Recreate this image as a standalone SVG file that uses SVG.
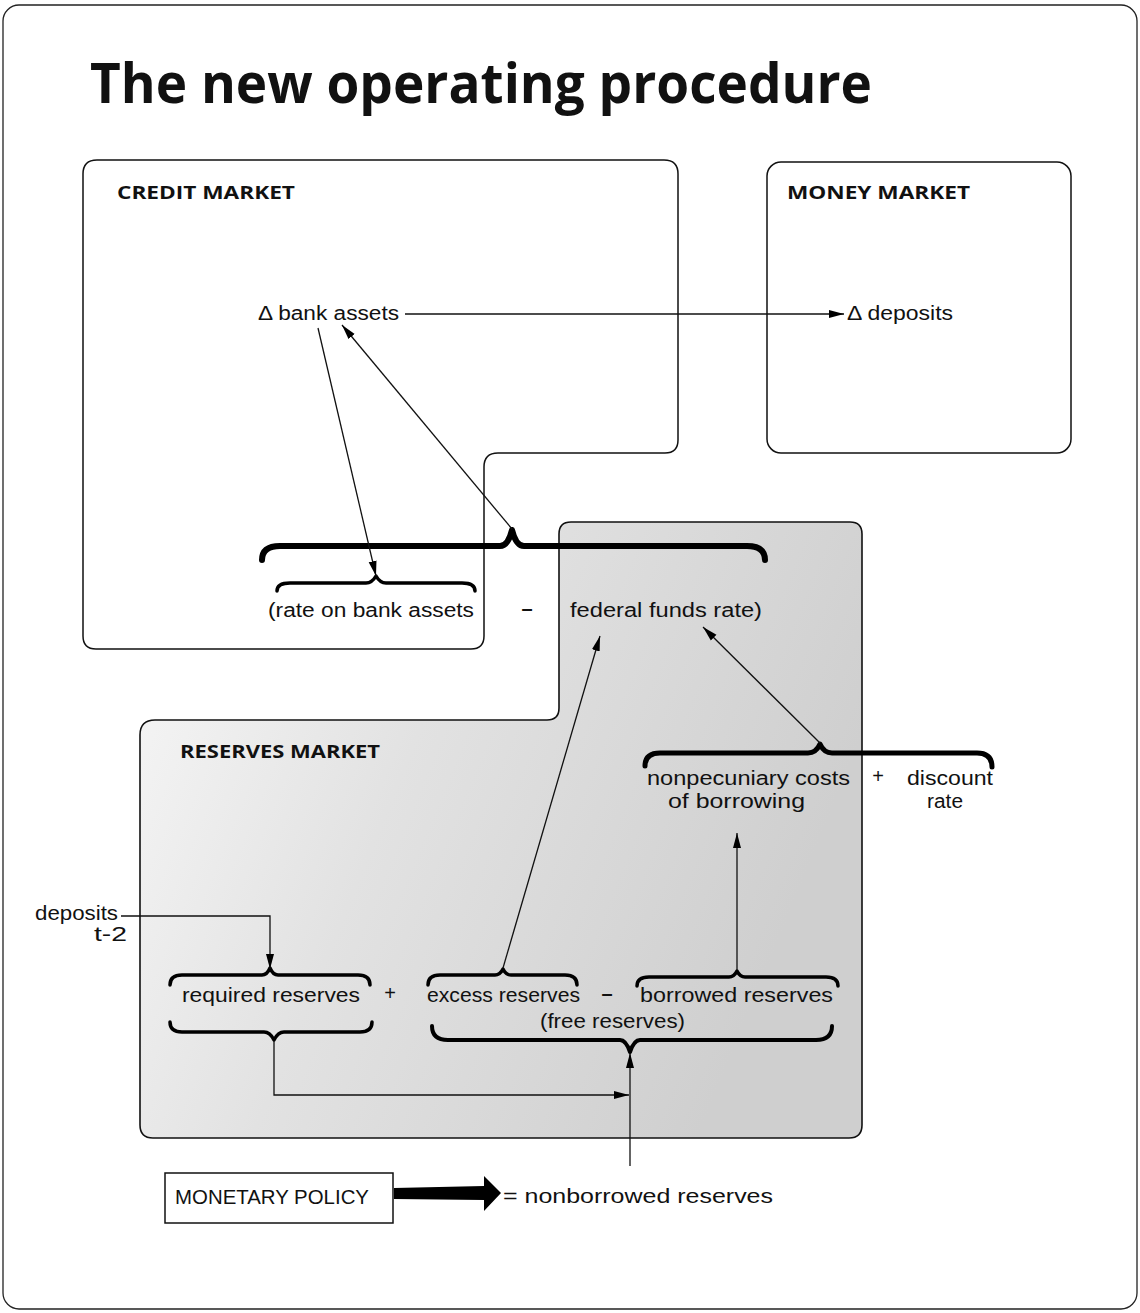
<svg xmlns="http://www.w3.org/2000/svg" width="1140" height="1313" viewBox="0 0 1140 1313">
<defs>
<linearGradient id="shade" x1="0" y1="0" x2="1" y2="0.35">
<stop offset="0" stop-color="#f8f8f8"/>
<stop offset="0.45" stop-color="#e2e2e2"/>
<stop offset="1" stop-color="#cfcfcf"/>
</linearGradient>
<marker id="ah" markerUnits="userSpaceOnUse" markerWidth="16" markerHeight="10" refX="15" refY="5" orient="auto">
<path d="M0,1 L15,5 L0,9 Z" fill="#000"/>
</marker>
</defs>
<style>
.box{fill:none;stroke:#111;stroke-width:1.5}
.t{font-family:"Liberation Sans",Arial,sans-serif;font-size:20px;fill:#111}
.h{font-family:"Open Sans","Liberation Sans",sans-serif;font-size:18px;font-weight:bold;fill:#111}
.m{font-family:"Liberation Sans",Arial,sans-serif;font-size:20px;font-weight:bold;fill:#111}
.c{fill:none;stroke:#111;stroke-width:1.3}
.br{fill:none;stroke:#000;stroke-linecap:round;stroke-linejoin:round}
</style>
<rect x="3" y="5" width="1134" height="1304" rx="16" fill="#fff" stroke="#222" stroke-width="1.3"/>
<text x="90" y="103" font-family="'Open Sans','Liberation Sans',sans-serif" font-size="55" font-weight="bold" fill="#111" textLength="782" lengthAdjust="spacingAndGlyphs">The new operating procedure</text>

<g id="reserves-market">
<path d="M155,720 H547 Q559,720 559,708 V534 Q559,522 571,522 H850 Q862,522 862,534 V1125 Q862,1138 849,1138 H153 Q140,1138 140,1125 V735 Q140,720 155,720 Z" fill="url(#shade)" stroke="#111" stroke-width="1.6"/>
<text class="h" x="180" y="758" textLength="200" lengthAdjust="spacingAndGlyphs">RESERVES MARKET</text>
</g>
<g id="credit-market">
<path class="box" d="M97,160 H664 Q678,160 678,174 V440 Q678,453 665,453 H498 Q484,453 484,467 V636 Q484,649 471,649 H96 Q83,649 83,636 V174 Q83,160 97,160 Z"/>
<text class="h" x="117" y="199" textLength="178" lengthAdjust="spacingAndGlyphs">CREDIT MARKET</text>
</g>
<g id="money-market">
<rect class="box" x="767" y="162" width="304" height="291" rx="14"/>
<text class="h" x="787" y="199" textLength="183" lengthAdjust="spacingAndGlyphs">MONEY MARKET</text>
</g>

<g id="bank-assets"><text class="t" x="258" y="320" textLength="141" lengthAdjust="spacingAndGlyphs">Δ bank assets</text></g>
<g id="deposits-mm"><text class="t" x="847" y="320" textLength="106" lengthAdjust="spacingAndGlyphs">Δ deposits</text></g>

<g id="spread">
<path class="br" stroke-width="6" d="M262,560 Q262,546 280,546 L500,546 Q508,546 512,530 Q516,546 524,546 L747,546 Q765,546 765,560"/>
<path class="br" stroke-width="3.5" d="M277,591 Q277,583 290,583 L366,583 Q372,583 376,576 Q380,583 386,583 L462,583 Q475,583 475,591"/>
<text class="t" x="268" y="617" textLength="206" lengthAdjust="spacingAndGlyphs">(rate on bank assets</text>
<text class="m" x="527" y="615" text-anchor="middle">–</text>
<text class="t" x="570" y="617" textLength="192" lengthAdjust="spacingAndGlyphs">federal funds rate)</text>
</g>

<g id="discount-cost">
<path class="br" stroke-width="5" d="M645,766 Q645,753 660,753 L808,753 Q816,753 820,744 Q824,753 832,753 L977,753 Q992,753 992,767"/>
<text class="t" x="647" y="785" textLength="203" lengthAdjust="spacingAndGlyphs">nonpecuniary costs</text>
<text class="t" x="668" y="808" textLength="137" lengthAdjust="spacingAndGlyphs">of borrowing</text>
<text class="t" x="878" y="783" text-anchor="middle">+</text>
<text class="t" x="907" y="785" textLength="86" lengthAdjust="spacingAndGlyphs">discount</text>
<text class="t" x="927" y="808" textLength="36" lengthAdjust="spacingAndGlyphs">rate</text>
</g>

<g id="deposits-t2">
<text class="t" x="35" y="920" textLength="83" lengthAdjust="spacingAndGlyphs">deposits</text>
<text class="t" x="94" y="941" font-size="16" textLength="33" lengthAdjust="spacingAndGlyphs">t-2</text>
</g>

<g id="reserves">
<path class="br" stroke-width="3.5" d="M170,985 Q170,975 182,975 L262,975 Q267,975 270,968 Q273,975 278,975 L358,975 Q370,975 370,985"/>
<path class="br" stroke-width="3.5" d="M428,985 Q428,975 440,975 L495,975 Q500,975 503,969 Q506,975 511,975 L565,975 Q577,975 577,985"/>
<path class="br" stroke-width="3.5" d="M637,986 Q637,977 649,977 L729,977 Q734,977 737,971 Q740,977 745,977 L826,977 Q838,977 838,986"/>
<text class="t" x="182" y="1002" textLength="178" lengthAdjust="spacingAndGlyphs">required reserves</text>
<text class="t" x="390" y="1000" text-anchor="middle">+</text>
<text class="t" x="427" y="1002" textLength="153" lengthAdjust="spacingAndGlyphs">excess reserves</text>
<text class="m" x="607" y="1000" text-anchor="middle">–</text>
<text class="t" x="640" y="1002" textLength="193" lengthAdjust="spacingAndGlyphs">borrowed reserves</text>
<text class="t" x="540" y="1028" textLength="145" lengthAdjust="spacingAndGlyphs">(free reserves)</text>
<path class="br" stroke-width="3.5" d="M170,1022 Q170,1032 182,1032 L264,1032 Q270,1032 274,1040 Q278,1032 284,1032 L360,1032 Q372,1032 372,1022"/>
<path class="br" stroke-width="4" d="M432,1026 Q432,1040 448,1040 L620,1040 Q626,1040 630,1052 Q634,1040 640,1040 L816,1040 Q832,1040 832,1026"/>
</g>

<g id="monetary-policy">
<rect x="165" y="1173" width="228" height="50" fill="#fff" stroke="#111" stroke-width="1.5"/>
<text class="t" x="175" y="1204" font-size="17" textLength="194" lengthAdjust="spacingAndGlyphs">MONETARY POLICY</text>
<path d="M394,1188 L484,1186 L484,1176 L501,1193 L484,1211 L484,1200 L394,1199 Z" fill="#000"/>
<text class="t" x="503" y="1203" textLength="270" lengthAdjust="spacingAndGlyphs">= nonborrowed reserves</text>
</g>

<g id="connectors">
<line class="c" x1="405" y1="314" x2="844" y2="314" marker-end="url(#ah)"/>
<line class="c" x1="318" y1="328" x2="376" y2="576" marker-end="url(#ah)"/>
<line class="c" x1="512" y1="529" x2="342" y2="325" marker-end="url(#ah)"/>
<line class="c" x1="503" y1="968" x2="600" y2="636" marker-end="url(#ah)"/>
<line class="c" x1="820" y1="743" x2="703" y2="627" marker-end="url(#ah)"/>
<line class="c" x1="737" y1="970" x2="737" y2="833" marker-end="url(#ah)"/>
<path class="c" d="M121,916 H270 V969" marker-end="url(#ah)"/>
<path class="c" d="M274,1041 V1095 H629" marker-end="url(#ah)"/>
<line class="c" x1="630" y1="1166" x2="630" y2="1053" marker-end="url(#ah)"/>
</g>
</svg>
